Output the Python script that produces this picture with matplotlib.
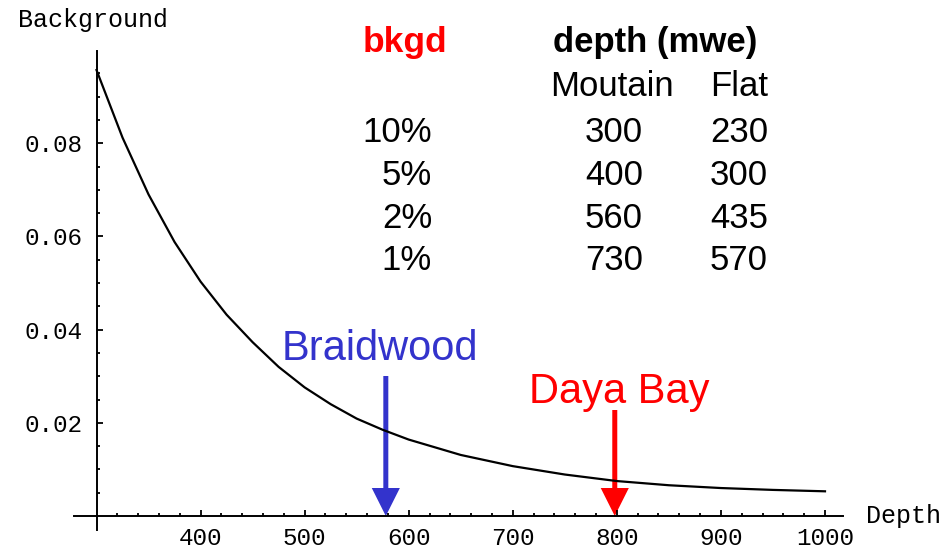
import matplotlib.pyplot as plt
import numpy as np

# curve
depth = [300, 325, 350, 375, 400, 425, 450, 475, 500, 525, 550, 575, 600, 650, 700, 750, 800, 850, 900, 950, 1000]
bkg = [0.0957, 0.0812, 0.0690, 0.0588, 0.0503, 0.0432, 0.0373, 0.0320, 0.0276, 0.0240, 0.0209, 0.0185,
       0.0164, 0.0131, 0.0107, 0.0089, 0.0075, 0.0066, 0.0060, 0.0056, 0.0053]

# table
bkgd_levels = ['10%', '5%', '2%', '1%']
mountain = ['300', '400', '560', '730']
flat = ['230', '300', '435', '570']

sites = ['Braidwood', 'Daya Bay']
site_depth = [578, 798]
site_color = ['#3333CC', '#FF0000']

W, H = 951, 554
fig = plt.figure(figsize=(W / 100, H / 100), dpi=100)
ax = fig.add_axes([0, 0, 1, 1])

# pixel mapping: x=300 -> 96.5 px, x=1000 -> 825 px ; y=0 -> 516 px, 0.001 -> 4.66 px
sx = (825 - 96.5) / 700
sy = 4660.0
x0 = 300 - 96.5 / sx
x1 = 300 + (W - 96.5) / sx
y0 = -(H - 516) / sy
y1 = 516 / sy
ax.set_xlim(x0, x1)
ax.set_ylim(y0, y1)

ax.plot(depth, bkg, color='black', lw=1.6)

mono = 'Liberation Mono'
ax.spines['top'].set_visible(False)
ax.spines['right'].set_visible(False)
ax.spines['left'].set_position(('data', 300))
ax.spines['bottom'].set_position(('data', 0))
ax.spines['left'].set_bounds(-0.003, 0.0998)
ax.spines['bottom'].set_bounds(278, 1017)
for s in ['left', 'bottom']:
    ax.spines[s].set_linewidth(1.4)

ax.set_xticks([400, 500, 600, 700, 800, 900, 1000])
ax.set_xticks([v for v in range(320, 1001, 20) if v % 100 != 0], minor=True)
ax.set_yticks([0.02, 0.04, 0.06, 0.08])
ax.set_yticks([v / 1000 for v in range(5, 100, 5) if v % 20 != 0], minor=True)
ax.set_yticklabels(['0.02', '0.04', '0.06', '0.08'])
ax.tick_params(which='both', direction='in', width=1.3, labelsize=17.5)
ax.tick_params(which='major', length=4.5)
ax.tick_params(which='minor', length=2.5)
ax.tick_params(axis='y', pad=10)
ax.tick_params(axis='x', pad=8)
for lab in ax.get_xticklabels() + ax.get_yticklabels():
    lab.set_family(mono)


def ft(px, py, s, **kw):
    fig.text(px / W, 1 - py / H, s, **kw)


ft(18, 20, 'Background', family=mono, fontsize=18, va='center')
ft(866, 516, 'Depth', family=mono, fontsize=18, va='center')

sans = 'Liberation Sans'
ft(363, 52, 'bkgd', family=sans, fontsize=25.5, weight='bold', color='#FF0000', va='baseline')
ft(553, 52, 'depth (mwe)', family=sans, fontsize=25, weight='bold', va='baseline')
ft(550, 96, 'Moutain', family=sans, fontsize=25, va='baseline')
ft(768, 96, 'Flat', family=sans, fontsize=25, va='baseline', ha='right')
row_y = [142, 185, 228, 270]
for i in range(len(bkgd_levels)):
    ft(432, row_y[i], bkgd_levels[i], family=sans, fontsize=25, va='baseline', ha='right')
    ft(643, row_y[i], mountain[i], family=sans, fontsize=25, va='baseline', ha='right')
    ft(768, row_y[i], flat[i], family=sans, fontsize=25, va='baseline', ha='right')

# arrows and site labels
arrow_top = [376, 410]
label_pos = [(380, 360), (619, 403)]
for i in range(len(sites)):
    ytop = (516 - arrow_top[i]) / sy
    ax.arrow(site_depth[i], ytop, 0, -ytop, width=4.8, head_width=27, head_length=28 / sy,
             length_includes_head=True, color=site_color[i], lw=0)
    ft(label_pos[i][0], label_pos[i][1], sites[i], family=sans, fontsize=30,
       color=site_color[i], ha='center', va='baseline')

fig.savefig('out.png', dpi=100)
